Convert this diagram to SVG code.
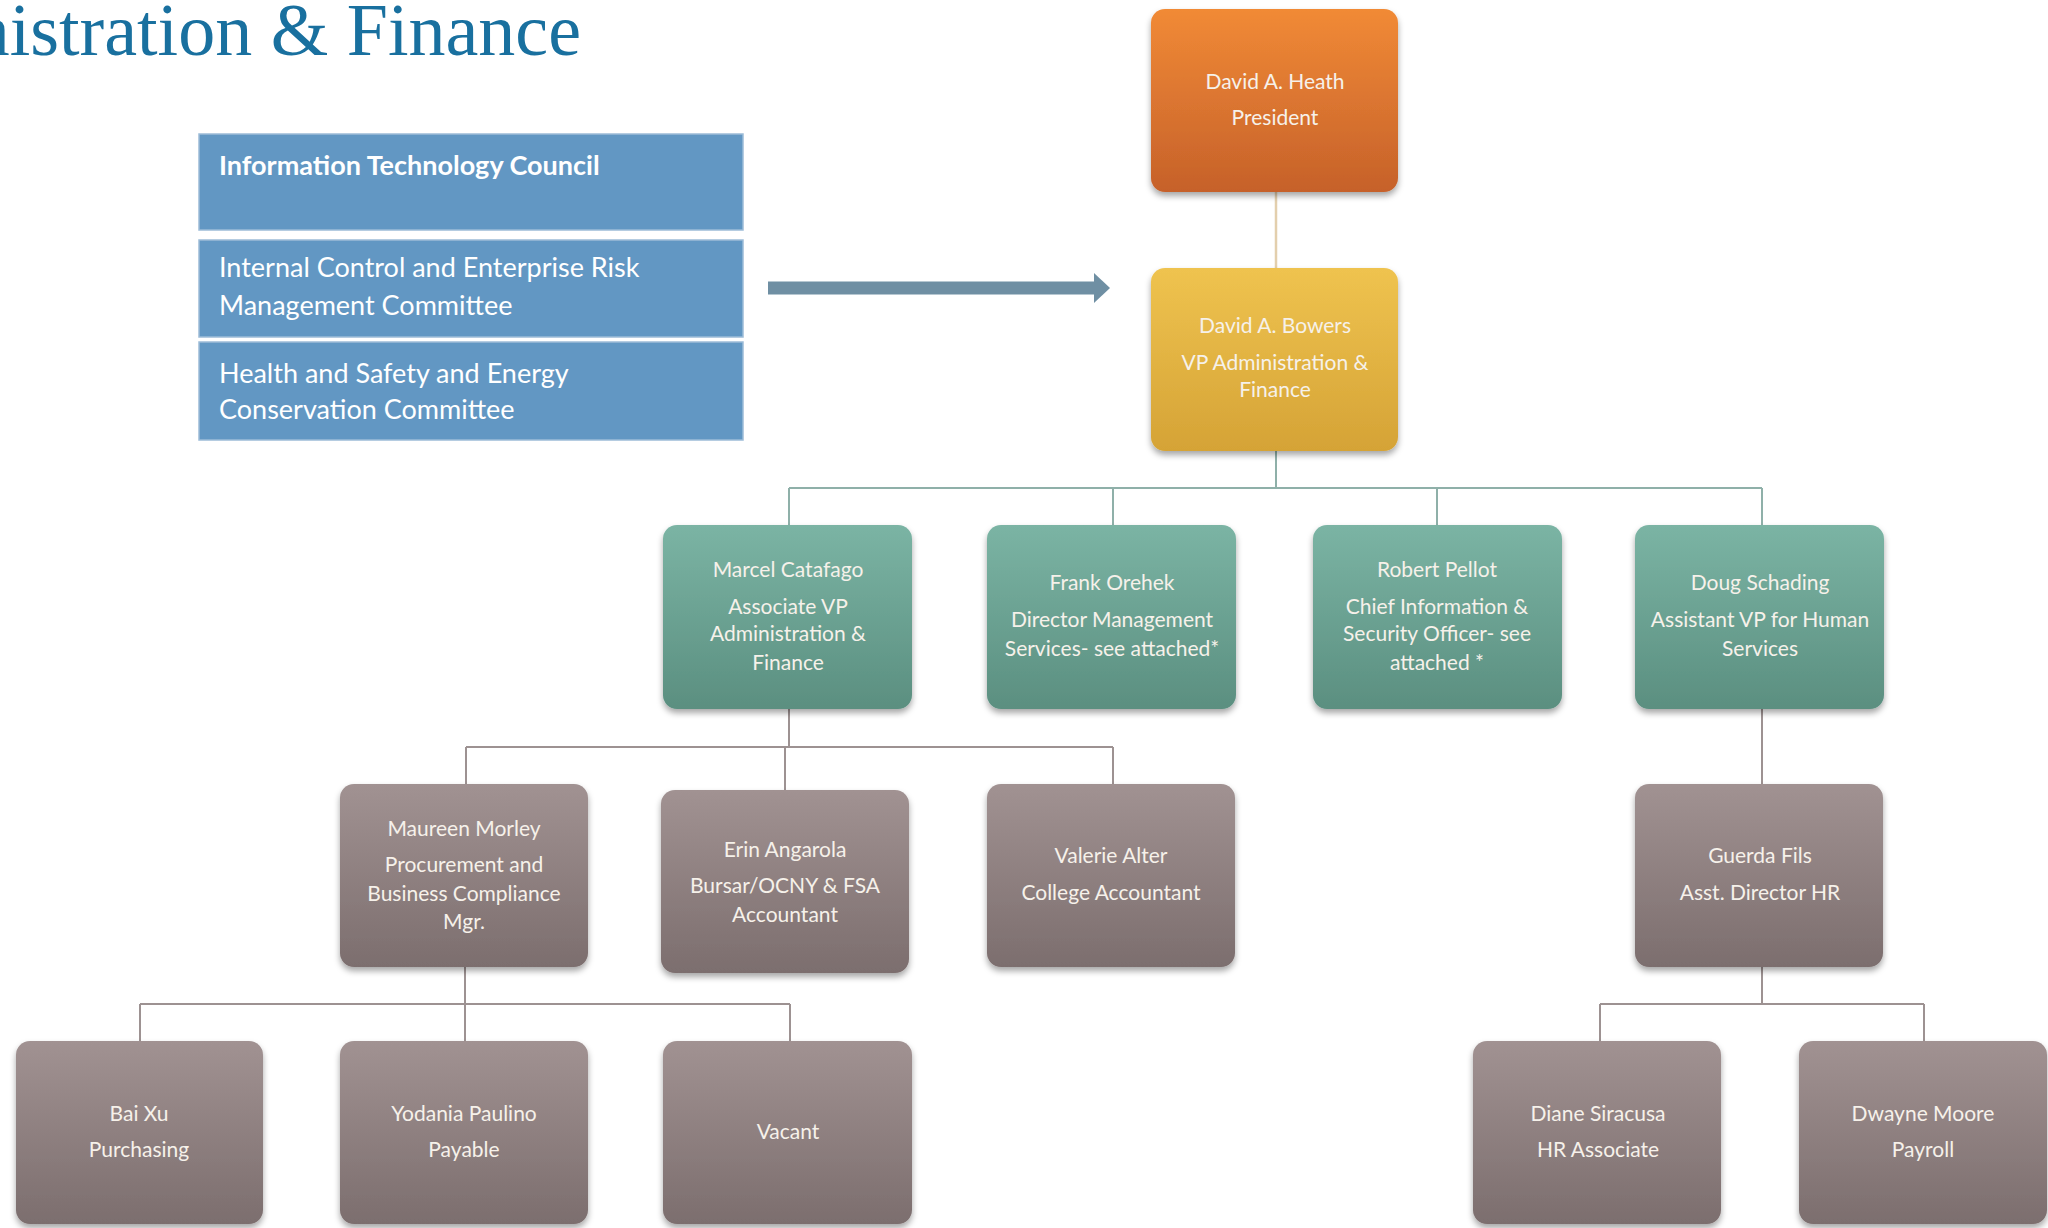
<svg xmlns="http://www.w3.org/2000/svg" width="2048" height="1228" viewBox="0 0 2048 1228">
<defs>
<linearGradient id="gOrange" x1="0" y1="0" x2="0" y2="1"><stop offset="0" stop-color="#f18a36"/><stop offset="1" stop-color="#c6612a"/></linearGradient>
<linearGradient id="gGold" x1="0" y1="0" x2="0" y2="1"><stop offset="0" stop-color="#efc34f"/><stop offset="1" stop-color="#d5a336"/></linearGradient>
<linearGradient id="gTeal" x1="0" y1="0" x2="0" y2="1"><stop offset="0" stop-color="#7bb4a4"/><stop offset="1" stop-color="#5b8f80"/></linearGradient>
<linearGradient id="gMauve" x1="0" y1="0" x2="0" y2="1"><stop offset="0" stop-color="#a19292"/><stop offset="1" stop-color="#7c6e6e"/></linearGradient>
<filter id="sh" x="-10%" y="-10%" width="120%" height="125%"><feDropShadow dx="0" dy="4" stdDeviation="3" flood-color="#000" flood-opacity="0.35"/></filter>
</defs>
<style>
.title{font-family:"Liberation Serif",serif;font-size:74px;fill:#19709f}
.cmt{fill:#6297c3;stroke:#9dbcd8;stroke-width:1.5}
.ct{font-family:Lato,"Open Sans",sans-serif;font-size:27px;fill:#ffffff}
.node{stroke:none;filter:url(#sh)}
.nt{font-family:Lato,"Open Sans",sans-serif;font-size:21px;fill:#f6f1ea;text-anchor:middle}
.c1{fill:none;stroke:#e3cfad;stroke-width:2.5}
.c2{fill:none;stroke:#8fb0a9;stroke-width:2}
.c3{fill:none;stroke:#9d9292;stroke-width:2}
</style>
<rect width="2048" height="1228" fill="#ffffff"/>
<text class="title" x="581" y="55" text-anchor="end">Administration &amp; Finance</text>

<g id="committees">
<rect class="cmt" x="199" y="134" width="544" height="96"/>
<text class="ct" x="219" y="175" font-weight="bold">Information Technology Council</text>
<rect class="cmt" x="199" y="240" width="544" height="97"/>
<text class="ct" x="219" y="277">Internal Control and Enterprise Risk</text>
<text class="ct" x="219" y="315">Management Committee</text>
<rect class="cmt" x="199" y="342" width="544" height="98"/>
<text class="ct" x="219" y="383">Health and Safety and Energy</text>
<text class="ct" x="219" y="419">Conservation Committee</text>
</g>

<g id="connectors">
<path d="M768 288 H1096" stroke="#6f8fa3" stroke-width="13" fill="none"/>
<polygon points="1094,273 1110,288 1094,303" fill="#6f8fa3"/>
<path class="c1" d="M1276 192 V268"/>
<path class="c2" d="M1276 451 V488 M789 488 H1762 M789 488 V525 M1113 488 V525 M1437 488 V525 M1762 488 V525"/>
<path class="c3" d="M789 709 V747 M466 747 H1113 M466 747 V784 M785 747 V790 M1113 747 V784"/>
<path class="c3" d="M1762 709 V784"/>
<path class="c3" d="M465 967 V1004 M140 1004 H790 M140 1004 V1041 M465 1004 V1041 M790 1004 V1041"/>
<path class="c3" d="M1762 967 V1004 M1600 1004 H1924 M1600 1004 V1041 M1924 1004 V1041"/>
</g>

<g id="president">
<rect class="node" x="1151" y="9" width="247" height="183" rx="14" fill="url(#gOrange)"/>
<text class="nt" x="1275" y="89">David A. Heath</text>
<text class="nt" x="1275" y="125">President</text>
</g>
<g id="vp">
<rect class="node" x="1151" y="268" width="247" height="183" rx="14" fill="url(#gGold)"/>
<text class="nt" x="1275" y="333">David A. Bowers</text>
<text class="nt" x="1275" y="370">VP Administration &amp;</text>
<text class="nt" x="1275" y="397">Finance</text>
</g>

<g id="marcel">
<rect class="node" x="663" y="525" width="249" height="184" rx="14" fill="url(#gTeal)"/>
<text class="nt" x="788" y="577">Marcel Catafago</text>
<text class="nt" x="788" y="614">Associate VP</text>
<text class="nt" x="788" y="641">Administration &amp;</text>
<text class="nt" x="788" y="670">Finance</text>
</g>
<g id="frank">
<rect class="node" x="987" y="525" width="249" height="184" rx="14" fill="url(#gTeal)"/>
<text class="nt" x="1112" y="590">Frank Orehek</text>
<text class="nt" x="1112" y="627">Director Management</text>
<text class="nt" x="1112" y="656">Services- see attached*</text>
</g>
<g id="robert">
<rect class="node" x="1313" y="525" width="249" height="184" rx="14" fill="url(#gTeal)"/>
<text class="nt" x="1437" y="577">Robert Pellot</text>
<text class="nt" x="1437" y="614">Chief Information &amp;</text>
<text class="nt" x="1437" y="641">Security Officer- see</text>
<text class="nt" x="1437" y="670">attached *</text>
</g>
<g id="doug">
<rect class="node" x="1635" y="525" width="249" height="184" rx="14" fill="url(#gTeal)"/>
<text class="nt" x="1760" y="590">Doug Schading</text>
<text class="nt" x="1760" y="627">Assistant VP for Human</text>
<text class="nt" x="1760" y="656">Services</text>
</g>

<g id="maureen">
<rect class="node" x="340" y="784" width="248" height="183" rx="14" fill="url(#gMauve)"/>
<text class="nt" x="464" y="836">Maureen Morley</text>
<text class="nt" x="464" y="872">Procurement and</text>
<text class="nt" x="464" y="901">Business Compliance</text>
<text class="nt" x="464" y="929">Mgr.</text>
</g>
<g id="erin">
<rect class="node" x="661" y="790" width="248" height="183" rx="14" fill="url(#gMauve)"/>
<text class="nt" x="785" y="857">Erin Angarola</text>
<text class="nt" x="785" y="893">Bursar/OCNY &amp; FSA</text>
<text class="nt" x="785" y="922">Accountant</text>
</g>
<g id="valerie">
<rect class="node" x="987" y="784" width="248" height="183" rx="14" fill="url(#gMauve)"/>
<text class="nt" x="1111" y="863">Valerie Alter</text>
<text class="nt" x="1111" y="900">College Accountant</text>
</g>
<g id="guerda">
<rect class="node" x="1635" y="784" width="248" height="183" rx="14" fill="url(#gMauve)"/>
<text class="nt" x="1760" y="863">Guerda Fils</text>
<text class="nt" x="1760" y="900">Asst. Director HR</text>
</g>

<g id="baixu">
<rect class="node" x="16" y="1041" width="247" height="183" rx="14" fill="url(#gMauve)"/>
<text class="nt" x="139" y="1121">Bai Xu</text>
<text class="nt" x="139" y="1157">Purchasing</text>
</g>
<g id="yodania">
<rect class="node" x="340" y="1041" width="248" height="183" rx="14" fill="url(#gMauve)"/>
<text class="nt" x="464" y="1121">Yodania Paulino</text>
<text class="nt" x="464" y="1157">Payable</text>
</g>
<g id="vacant">
<rect class="node" x="663" y="1041" width="249" height="183" rx="14" fill="url(#gMauve)"/>
<text class="nt" x="788" y="1139">Vacant</text>
</g>
<g id="diane">
<rect class="node" x="1473" y="1041" width="248" height="183" rx="14" fill="url(#gMauve)"/>
<text class="nt" x="1598" y="1121">Diane Siracusa</text>
<text class="nt" x="1598" y="1157">HR Associate</text>
</g>
<g id="dwayne">
<rect class="node" x="1799" y="1041" width="248" height="183" rx="14" fill="url(#gMauve)"/>
<text class="nt" x="1923" y="1121">Dwayne Moore</text>
<text class="nt" x="1923" y="1157">Payroll</text>
</g>
</svg>
